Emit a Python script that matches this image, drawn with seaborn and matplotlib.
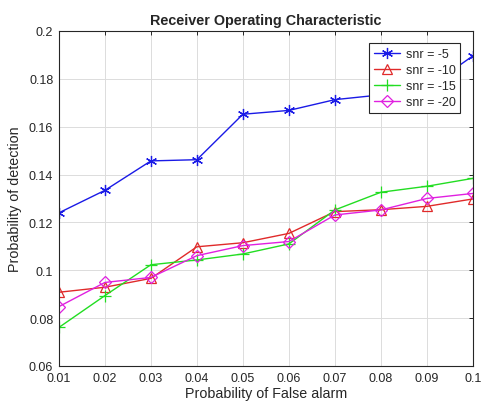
import numpy as np
import pandas as pd
import seaborn as sns
import matplotlib
matplotlib.use("Agg")
from matplotlib import pyplot as plt

# data
pfa = [0.01, 0.02, 0.03, 0.04, 0.05, 0.06, 0.07, 0.08, 0.09, 0.1]
pd_snr_5 = [0.124, 0.1334, 0.1457, 0.1462, 0.1652, 0.1668, 0.1713, 0.1733, 0.176, 0.1896]
pd_snr_10 = [0.0908, 0.0929, 0.0966, 0.1098, 0.1115, 0.1154, 0.1245, 0.1253, 0.1267, 0.1298]
pd_snr_15 = [0.0761, 0.0894, 0.1023, 0.1043, 0.1068, 0.1110, 0.1252, 0.1326, 0.1351, 0.1384]
pd_snr_20 = [0.0848, 0.0949, 0.0970, 0.1061, 0.1103, 0.1120, 0.1231, 0.1252, 0.1300, 0.1321]
labels = ['snr = -5', 'snr = -10', 'snr = -15', 'snr = -20']
x_ticks = [0.01, 0.02, 0.03, 0.04, 0.05, 0.06, 0.07, 0.08, 0.09, 0.1]
y_ticks = [0.06, 0.08, 0.1, 0.12, 0.14, 0.16, 0.18, 0.2]

sns.set_style("white")
plt.rcParams['font.family'] = ['Liberation Sans', 'DejaVu Sans']

series = [pd_snr_5, pd_snr_10, pd_snr_15, pd_snr_20]
colors = ['#1a1ae6', '#e02a2a', '#22dd22', '#e020e0']
# MATLAB style markers: asterisk, triangle, plus, diamond
markers = [(6, 2, 0), '^', '+', 'D']
msizes = [8, 7, 8, 6]

fig = plt.figure(figsize=(4.83, 4.10), dpi=100)
ax = fig.add_axes([0.122, 0.105, 0.857, 0.817])

for vals, lab, c, m, ms in zip(series, labels, colors, markers, msizes):
    sns.lineplot(x=pfa, y=vals, ax=ax, color=c, marker=m, markersize=ms,
                 markeredgecolor=c, markerfacecolor='none', markeredgewidth=0.9,
                 linewidth=1.0, label=lab)

ax.set_xlim(0.01, 0.1)
ax.set_ylim(0.06, 0.2)
ax.set_xticks(x_ticks)
ax.set_xticklabels(['%g' % t for t in x_ticks])
ax.set_yticks(y_ticks)
ax.set_yticklabels(['%g' % t for t in y_ticks])
ax.grid(True, color='#dcdcdc', linewidth=0.7)
ax.tick_params(direction='in', top=True, right=True, length=3, width=0.7,
               labelsize=9, colors='#262626', pad=4)
for sp in ax.spines.values():
    sp.set_color('#262626')
    sp.set_linewidth(0.8)

ax.set_title('Receiver Operating Characteristic', fontsize=10.4, fontweight='bold', pad=5)
ax.set_xlabel('Probability of False alarm', fontsize=10.3, color='#262626', labelpad=2)
ax.set_ylabel('Probability of detection', fontsize=10.3, color='#262626', labelpad=5)

leg = ax.legend(loc='upper right', fontsize=9, frameon=True, fancybox=False,
                framealpha=1, borderpad=0.4, handlelength=2.1, handletextpad=0.45,
                labelspacing=0.32, borderaxespad=0, bbox_to_anchor=(0.97, 0.964))
leg.get_frame().set_edgecolor('#262626')
leg.get_frame().set_linewidth(0.8)

fig.savefig('out.png', dpi=100)
